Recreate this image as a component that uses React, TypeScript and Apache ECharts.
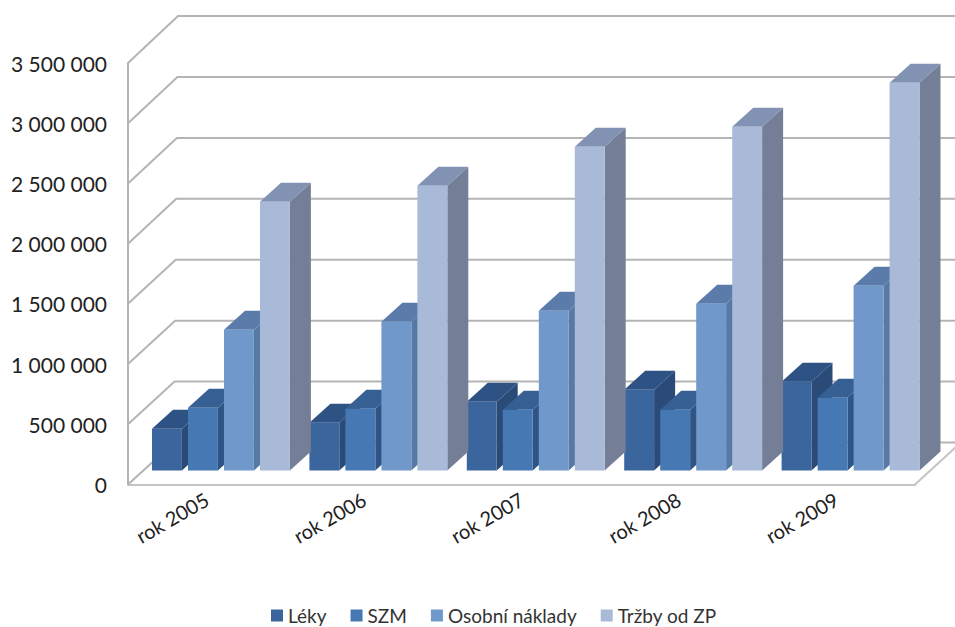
import React, { useEffect, useRef } from "react";
import * as echarts from "echarts";

const categories = ["rok 2005", "rok 2006", "rok 2007", "rok 2008", "rok 2009"];
const leky = [346000, 396000, 571000, 670000, 737000];
const szm = [521000, 512000, 504000, 504000, 604000];
const osobni = [1169000, 1235000, 1326000, 1385000, 1534000];
const trzby = [2232000, 2365000, 2689000, 2855000, 3220000];
const gridTicks = [0, 500000, 1000000, 1500000, 2000000, 2500000, 3000000, 3500000];

const seriesDefs = [
  { name: "Léky", values: leky, front: "#3b669d", top: "#2f5284", side: "#2a4a78" },
  { name: "SZM", values: szm, front: "#4678b4", top: "#365f94", side: "#2f5587" },
  { name: "Osobní náklady", values: osobni, front: "#7198ca", top: "#5b7cab", side: "#577aa5" },
  { name: "Tržby od ZP", values: trzby, front: "#a9bad9", top: "#8292b3", side: "#747f97" },
];

const FONT = "Lato";
const BAR_DX = 21;
const BAR_DY = -19;
const LIFT = -14;
const GRID = "#b4b4b4";

export default function App() {
  const ref = useRef<HTMLDivElement>(null);
  useEffect(() => {
    document.body.style.margin = "0";
    const chart = echarts.init(ref.current!, null, { renderer: "svg" });
    const barSeries = seriesDefs.map((s, si) => ({
      type: "custom",
      name: s.name,
      itemStyle: { color: s.front },
      encode: { x: 0, y: 1 },
      data: s.values.map((v, i) => [i, v]),
      renderItem: (_p: any, api: any) => {
        const c = api.coord([api.value(0), api.value(1)]);
        const base = api.coord([api.value(0), 0]);
        const band = api.size([1, 0])[0];
        const x0 = c[0] - 0.3475 * band + si * 0.2287 * band;
        const w = 0.19 * band;
        const x1 = x0 + w;
        const yTop = c[1] + LIFT;
        const yBot = base[1] + LIFT;
        const poly = (points: number[][], fill: string) => ({
          type: "polygon",
          shape: { points },
          style: { fill, stroke: null },
        });
        return {
          type: "group",
          children: [
            poly([[x1, yTop], [x1 + BAR_DX, yTop + BAR_DY], [x1 + BAR_DX, yBot + BAR_DY], [x1, yBot]], s.side),
            poly([[x0, yTop], [x0 + BAR_DX, yTop + BAR_DY], [x1 + BAR_DX, yTop + BAR_DY], [x1, yTop]], s.top),
            poly([[x0, yTop], [x1, yTop], [x1, yBot], [x0, yBot]], s.front),
          ],
        };
      },
    }));
    const wallSeries = {
      type: "custom",
      silent: true,
      encode: { x: 0, y: 1 },
      data: gridTicks.map((t) => [0, t]),
      renderItem: (p: any, api: any) => {
        const sys = p.coordSys;
        const v = api.value(1);
        const y = api.coord([0, v])[1];
        const y0 = api.coord([0, 0])[1];
        // the back wall is drawn slightly taller than the front plane
        const backY = y0 - 42 - (y0 - y) * 1.0116;
        const backDx = 46 + (v / 3500000) * 4;
        const children: any[] = [
          {
            type: "polyline",
            shape: {
              points: [
                [sys.x, y],
                [sys.x + backDx, backY],
                [sys.x + sys.width + backDx, backY],
              ],
            },
            style: { stroke: GRID, lineWidth: 2, fill: null },
          },
        ];
        if (v === 0) {
          children.push({
            type: "line",
            shape: {
              x1: sys.x + sys.width,
              y1: y,
              x2: sys.x + sys.width + backDx,
              y2: backY,
            },
            style: { stroke: "#c4c4c4", lineWidth: 2 },
          });
        }
        return { type: "group", children };
      },
    };
    chart.setOption({
      animation: false,
      grid: { left: 128, right: 40, top: 63, bottom: 142.5, containLabel: false },
      legend: {
        data: seriesDefs.map((s) => s.name),
        left: 266,
        top: 601,
        icon: "rect",
        itemWidth: 12,
        itemHeight: 12,
        itemGap: 24,
        textStyle: { fontFamily: FONT, fontSize: 19, color: "#333" },
      },
      xAxis: {
        type: "category",
        data: categories,
        axisTick: { show: false },
        axisLine: { show: true, lineStyle: { color: "#c4c4c4", width: 2 } },
        splitLine: { show: false },
        axisLabel: {
          rotate: 30,
          margin: 13,
          interval: 0,
          fontFamily: FONT,
          fontSize: 20,
          color: "#222",
        },
      },
      yAxis: {
        type: "value",
        min: 0,
        max: 3500000,
        interval: 500000,
        axisTick: { show: false },
        axisLine: { show: true, lineStyle: { color: GRID, width: 2 } },
        splitLine: { show: false },
        axisLabel: {
          margin: 21,
          fontFamily: FONT,
          fontSize: 21,
          color: "#222",
          formatter: (v: number) => String(v).replace(/\B(?=(\d{3})+$)/g, " "),
        },
      },
      series: [wallSeries, ...barSeries],
    });
    return () => chart.dispose();
  }, []);
  return <div ref={ref} style={{ position: "absolute", left: 0, top: 0, width: 955, height: 627 }} />;
}
